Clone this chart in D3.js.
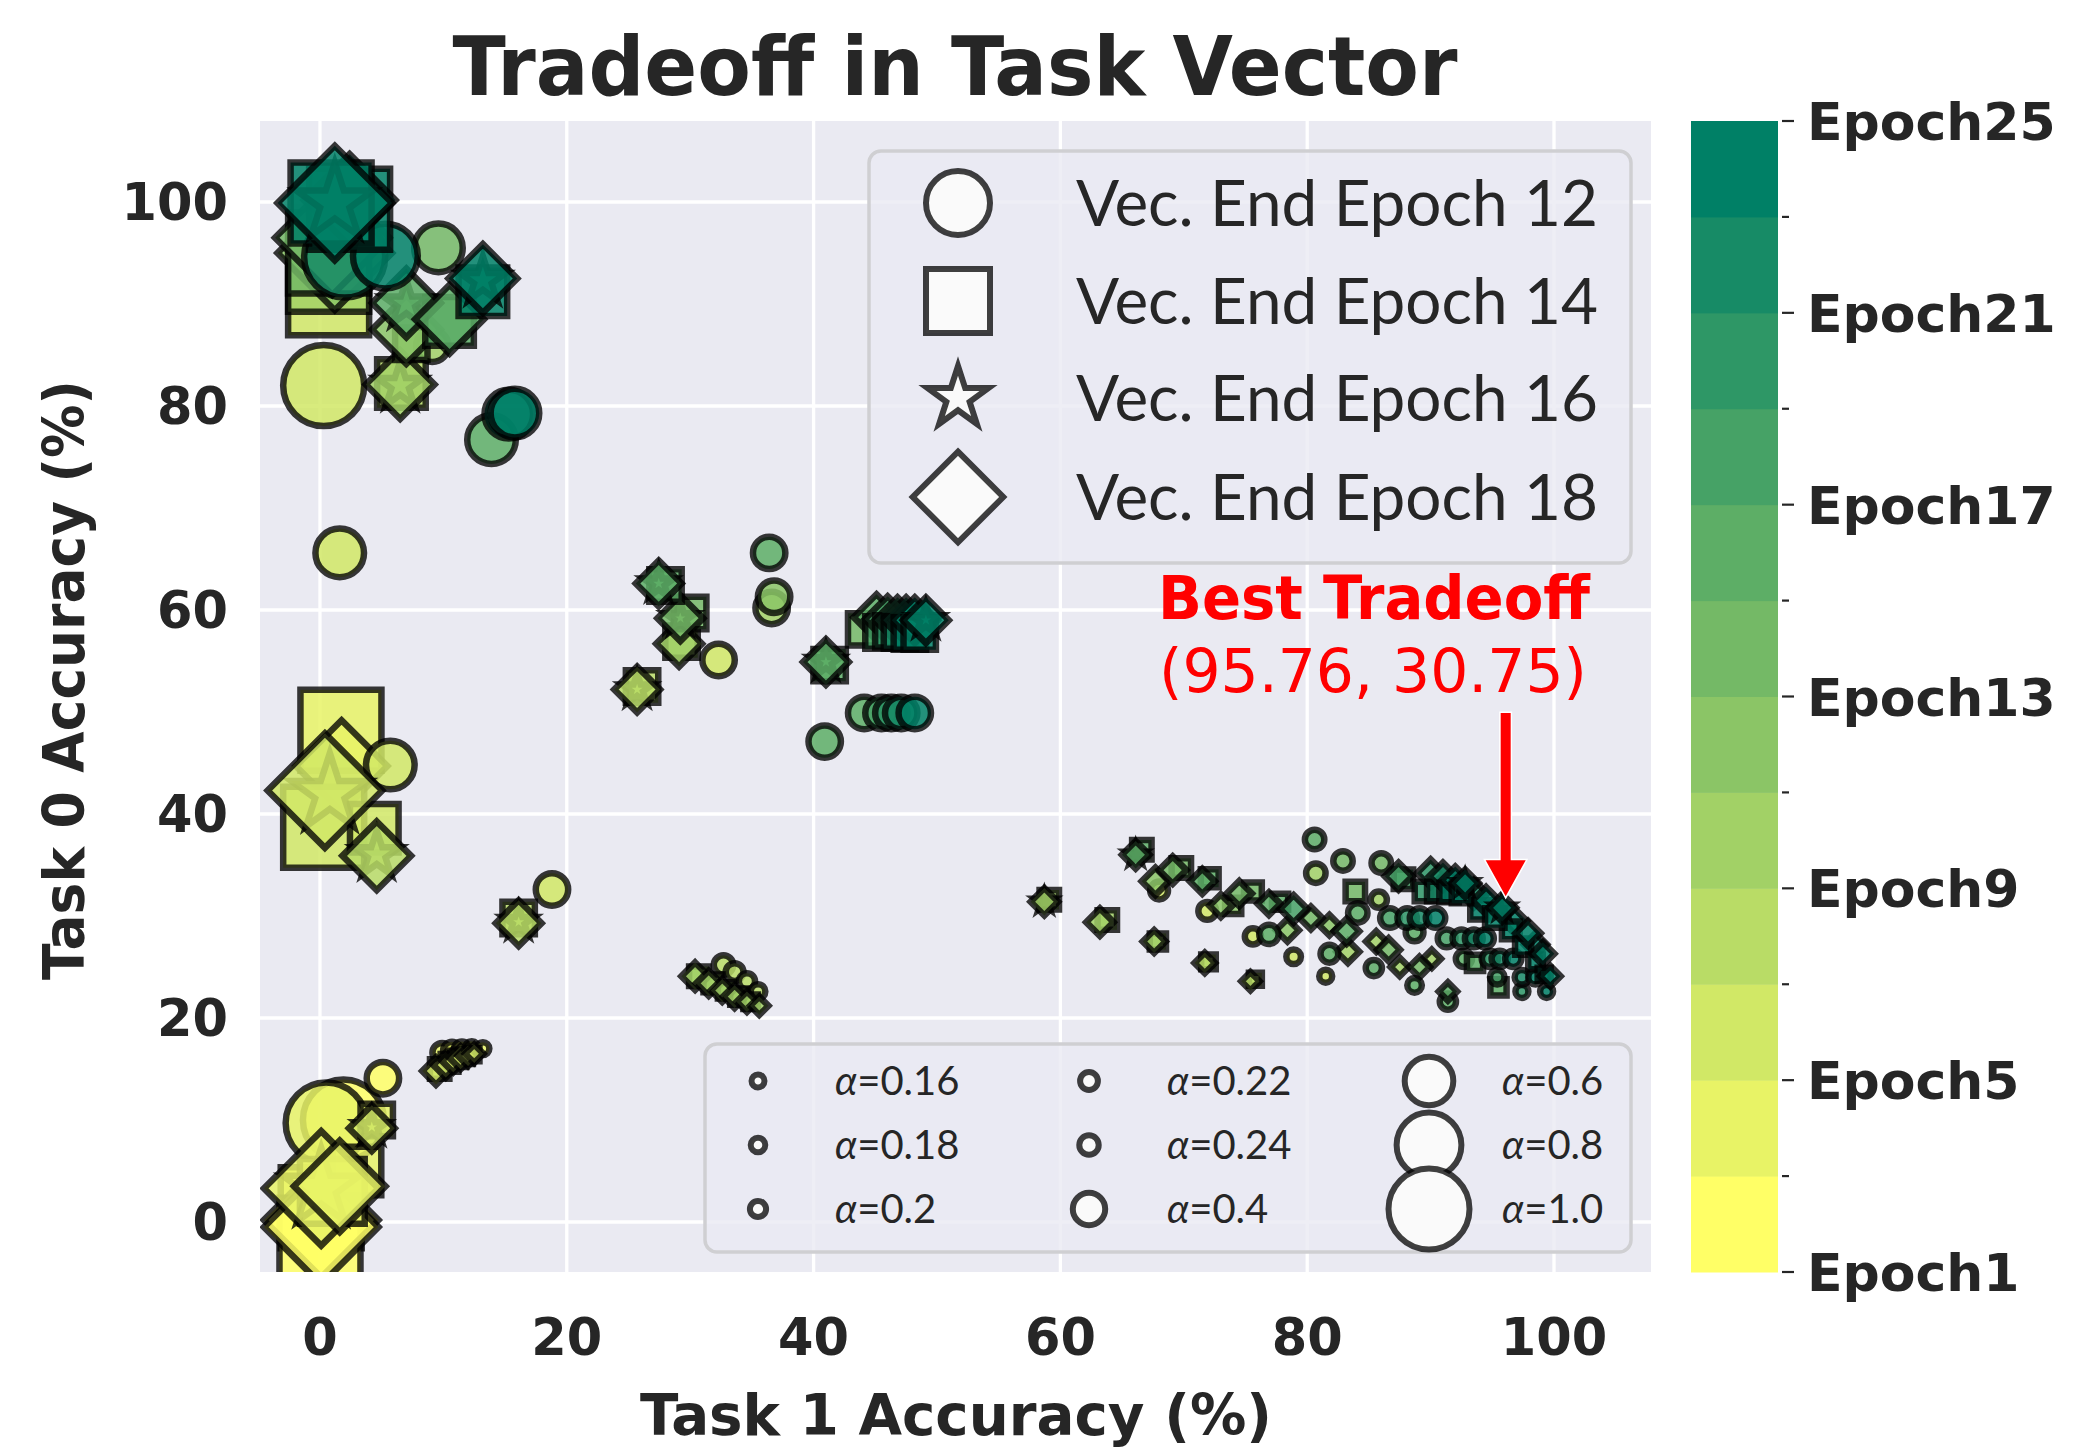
<!DOCTYPE html>
<html><head><meta charset="utf-8">
<script src="https://cdn.jsdelivr.net/npm/d3@7"></script>
<style>body{margin:0;background:#fff}svg{display:block}</style>
</head><body>
<svg id="c" width="2088" height="1455"></svg>
<script>
// ---------------- data ----------------
const chartTitle = "Tradeoff in Task Vector";
const xLabel = "Task 1 Accuracy (%)";
const yLabel = "Task 0 Accuracy (%)";
const xTicks = [0, 20, 40, 60, 80, 100];
const yTicks = [0, 20, 40, 60, 80, 100];
const epochBounds = [1, 3, 5, 7, 9, 11, 13, 15, 17, 19, 21, 23, 25];
const epochLabels = ["Epoch1", "Epoch5", "Epoch9", "Epoch13", "Epoch17", "Epoch21", "Epoch25"];
const epochLabelValues = [1, 5, 9, 13, 17, 21, 25];
const shapeLabels = ["Vec. End Epoch 12", "Vec. End Epoch 14", "Vec. End Epoch 16", "Vec. End Epoch 18"];
const alphaLevels = [0.16, 0.18, 0.2, 0.22, 0.24, 0.4, 0.6, 0.8, 1.0];
const alphaLabels = ["0.16", "0.18", "0.2", "0.22", "0.24", "0.4", "0.6", "0.8", "1.0"];
const bestPoint = [95.76, 30.75];
const bestTitle = "Best Tradeoff";
const bestText = "(95.76, 30.75)";

// each entry: [task1 acc, task0 acc, alpha, start epoch]
const circlePts = [
  [2.0, 94.6, 1.0, 21], [5.3, 94.7, 0.8, 23], [9.6, 95.5, 0.6, 13], [9.1, 85.9, 0.4, 9],
  [0.3, 82.0, 1.0, 5], [15.3, 79.2, 0.6, 23], [15.8, 79.3, 0.6, 25], [13.9, 76.7, 0.6, 15],
  [1.6, 65.6, 0.6, 5], [5.7, 44.8, 0.6, 5], [18.8, 32.6, 0.4, 5],
  [0.5, 9.7, 1.0, 3], [1.9, 10.0, 1.0, 1], [5.1, 14.1, 0.4, 1],
  [9.9, 16.6, 0.24, 3], [10.7, 16.8, 0.22, 3], [11.5, 16.9, 0.2, 3], [12.3, 17.0, 0.18, 3], [13.2, 17.0, 0.16, 3],
  [32.7, 25.2, 0.24, 7], [33.6, 24.5, 0.22, 7], [34.6, 23.6, 0.2, 7], [35.5, 22.6, 0.18, 7],
  [32.3, 55.1, 0.4, 5], [36.4, 65.6, 0.4, 15], [36.6, 60.2, 0.4, 9], [36.8, 61.3, 0.4, 11],
  [40.9, 47.1, 0.4, 15], [44.1, 49.9, 0.4, 15], [45.5, 49.9, 0.4, 17], [46.3, 49.9, 0.4, 19],
  [47.1, 49.9, 0.4, 21], [48.2, 49.9, 0.4, 25],
  [68.0, 32.5, 0.22, 5], [71.9, 30.5, 0.22, 5], [75.6, 28.0, 0.2, 5], [76.9, 28.2, 0.24, 15],
  [78.9, 26.0, 0.18, 5], [80.6, 37.5, 0.24, 15], [80.7, 34.2, 0.24, 9], [82.9, 35.4, 0.24, 13],
  [86.0, 35.2, 0.24, 13], [85.8, 31.6, 0.2, 9], [84.1, 30.3, 0.24, 15],
  [86.7, 29.8, 0.24, 17], [88.1, 29.8, 0.24, 19], [89.1, 29.8, 0.24, 21], [90.4, 29.8, 0.24, 25],
  [91.3, 27.8, 0.22, 17], [92.5, 27.8, 0.22, 19], [93.5, 27.8, 0.22, 21], [94.4, 27.8, 0.22, 25],
  [92.7, 25.8, 0.2, 15], [94.8, 25.8, 0.2, 19], [95.6, 25.8, 0.2, 21], [96.7, 25.8, 0.2, 25],
  [95.4, 24.0, 0.18, 17], [97.4, 24.0, 0.18, 21], [98.5, 24.0, 0.18, 25],
  [97.4, 22.6, 0.16, 19], [99.4, 22.6, 0.16, 25],
  [85.4, 24.9, 0.2, 15], [81.8, 26.3, 0.22, 15], [81.5, 24.1, 0.16, 5], [88.7, 23.2, 0.18, 15],
  [88.7, 28.4, 0.22, 15], [91.4, 21.6, 0.2, 15]
];
const squarePts = [
  [0.9, 99.9, 1.0, 25], [2.4, 99.3, 1.0, 23], [0.7, 95.0, 1.0, 13], [0.7, 93.2, 1.0, 9],
  [0.7, 90.9, 1.0, 5], [13.2, 91.2, 0.6, 23], [10.5, 88.3, 0.6, 15], [6.6, 82.2, 0.6, 7],
  [7.4, 86.1, 0.4, 11],
  [1.7, 48.2, 1.0, 3], [0.3, 38.7, 1.0, 5], [4.4, 38.6, 0.6, 5], [16.1, 29.8, 0.4, 7],
  [4.6, 10.0, 0.4, 3], [3.0, 5.0, 0.6, 3], [1.0, 3.0, 0.8, 3], [0.1, 1.4, 1.0, 1], [0.0, -1.6, 1.0, 1],
  [9.7, 15.0, 0.24, 5], [10.5, 15.6, 0.22, 5], [11.2, 16.0, 0.2, 5], [11.8, 16.2, 0.18, 5], [12.4, 16.4, 0.16, 5],
  [30.7, 24.1, 0.24, 9], [31.8, 23.4, 0.22, 9], [32.9, 22.7, 0.2, 9], [33.9, 22.1, 0.2, 9], [34.9, 21.6, 0.18, 9],
  [28.0, 62.4, 0.4, 15], [30.0, 59.7, 0.4, 13], [29.3, 56.9, 0.4, 9], [26.1, 52.5, 0.4, 7],
  [41.3, 54.6, 0.4, 15], [44.1, 58.1, 0.4, 13], [45.5, 57.8, 0.4, 17], [46.3, 57.9, 0.4, 19],
  [47.0, 57.8, 0.4, 21], [47.8, 57.7, 0.4, 23], [48.6, 57.7, 0.4, 25],
  [59.1, 31.6, 0.24, 9], [63.8, 29.6, 0.24, 9], [67.9, 27.5, 0.2, 9], [72.0, 25.5, 0.18, 7], [75.8, 23.8, 0.16, 7],
  [66.6, 36.5, 0.24, 15], [69.8, 34.7, 0.24, 13], [72.1, 33.7, 0.22, 15], [75.6, 32.4, 0.22, 13],
  [74.0, 31.0, 0.2, 11], [77.8, 31.4, 0.2, 15], [83.9, 32.4, 0.24, 13], [87.8, 33.6, 0.24, 17],
  [89.5, 32.4, 0.24, 19], [90.5, 32.4, 0.24, 21], [91.5, 32.3, 0.24, 23], [92.5, 32.2, 0.24, 25],
  [93.6, 25.4, 0.2, 15], [95.5, 23.0, 0.2, 15], [96.5, 28.6, 0.22, 25], [97.5, 27.0, 0.2, 25],
  [98.5, 25.5, 0.18, 25], [99.2, 24.3, 0.16, 25], [95.2, 29.8, 0.24, 25], [94.0, 30.6, 0.24, 23]
];
const starPts = [
  [1.2, 99.9, 1.0, 25], [13.2, 92.3, 0.6, 25], [7.0, 90.0, 0.6, 15], [6.5, 82.0, 0.6, 9],
  [0.8, 42.0, 1.0, 5], [4.6, 36.0, 0.6, 7], [16.1, 29.4, 0.4, 7],
  [0.1, 3.3, 1.0, 3], [4.2, 9.3, 0.4, 5],
  [27.45, 62.6, 0.4, 15], [29.2, 59.2, 0.4, 13], [25.7, 52.2, 0.4, 7], [41.0, 54.9, 0.4, 15], [49.1, 59.0, 0.4, 25],
  [58.7, 31.4, 0.24, 9], [66.1, 36.0, 0.24, 15], [92.8, 33.2, 0.24, 25], [95.8, 30.8, 0.24, 25]
];
const diamondPts = [
  [1.0, 96.5, 1.0, 13], [1.2, 95.0, 1.0, 11], [1.2, 99.9, 1.0, 25], [2.4, 100.2, 0.8, 23],
  [7.0, 90.1, 0.6, 15], [7.0, 87.5, 0.6, 11], [13.2, 92.5, 0.6, 25], [6.5, 82.1, 0.6, 9], [10.5, 88.5, 0.6, 15],
  [0.4, 42.3, 1.0, 5], [1.75, 44.7, 0.8, 3], [4.6, 35.9, 0.6, 7], [16.1, 29.3, 0.4, 7],
  [4.2, 9.2, 0.4, 5], [0.1, 3.3, 1.0, 3], [1.6, 3.5, 0.8, 3], [0.1, 0.2, 1.0, 1], [0.1, -0.5, 1.0, 1],
  [9.4, 14.8, 0.24, 5], [10.2, 15.4, 0.22, 5], [10.8, 15.8, 0.2, 5], [11.4, 16.1, 0.2, 5], [12.0, 16.3, 0.18, 5], [12.5, 16.5, 0.16, 5],
  [30.4, 24.1, 0.24, 9], [31.5, 23.4, 0.22, 9], [32.6, 22.7, 0.2, 9], [33.6, 22.1, 0.2, 9], [34.6, 21.6, 0.18, 9], [35.6, 21.2, 0.16, 9],
  [27.45, 62.6, 0.4, 15], [29.2, 59.2, 0.4, 13], [29.1, 56.7, 0.4, 9], [25.7, 52.2, 0.4, 7], [41.0, 54.9, 0.4, 15],
  [45.1, 59.3, 0.4, 15], [46.0, 59.1, 0.4, 17], [46.8, 59.0, 0.4, 19], [47.5, 59.0, 0.4, 21], [48.2, 59.0, 0.4, 23], [49.1, 59.0, 0.4, 25],
  [58.7, 31.4, 0.24, 9], [63.2, 29.4, 0.24, 9], [67.6, 27.5, 0.2, 9], [71.7, 25.4, 0.18, 7], [75.4, 23.6, 0.16, 7],
  [66.1, 36.0, 0.24, 15], [67.7, 33.4, 0.24, 11], [69.1, 34.5, 0.24, 13], [71.5, 33.4, 0.22, 15], [74.5, 32.2, 0.22, 13],
  [73.0, 31.0, 0.2, 11], [76.9, 31.2, 0.2, 15], [78.9, 30.7, 0.24, 17], [80.3, 29.8, 0.2, 13], [78.4, 28.6, 0.2, 11],
  [81.8, 29.1, 0.18, 11], [83.2, 28.5, 0.22, 15], [83.3, 26.5, 0.2, 9], [85.6, 27.5, 0.18, 9], [86.6, 26.7, 0.2, 13],
  [87.5, 25.0, 0.16, 9], [89.1, 25.0, 0.18, 13], [90.1, 25.8, 0.16, 9], [91.4, 22.6, 0.16, 15],
  [87.4, 33.9, 0.24, 17], [90.0, 34.2, 0.24, 19], [91.0, 33.9, 0.24, 21], [92.0, 33.5, 0.24, 23], [92.8, 33.2, 0.24, 25],
  [93.5, 32.2, 0.24, 21], [94.5, 31.5, 0.24, 23], [96.8, 29.5, 0.22, 23], [98.5, 27.2, 0.2, 23],
  [95.8, 30.8, 0.24, 25], [97.9, 28.3, 0.22, 25], [99.1, 26.3, 0.2, 25], [99.7, 24.1, 0.18, 25]
];

// ---------------- layout ----------------
const svg = d3.select("#c");
const W = 2088, H = 1455;
const plot = {left: 260, right: 1651, top: 121, bottom: 1272};
const x = d3.scaleLinear().domain([-4.86, 107.86]).range([plot.left, plot.right]);
const y = d3.scaleLinear().domain([-4.9, 107.94]).range([plot.bottom, plot.top]);
const mSize = d3.scaleLinear().domain([0, 1]).range([0, 81]);
const textCol = "#262626";

svg.append("rect").attr("width", W).attr("height", H).attr("fill", "#fff");

// colormap: summer_r, 12 discrete levels
const summer = t => d3.rgb(Math.round(255 * t), Math.round(255 * (0.5 + 0.5 * t)), 102).toString();
const bandColor = k => summer(1 - k / 11);
const colorFor = e => bandColor(Math.min(11, Math.floor((e - 1) / 24 * 12)));

// symbols (size = marker size in px)
const symCircle = {draw(c, m) { const r = m / 2; c.moveTo(r, 0); c.arc(0, 0, r, 0, 2 * Math.PI); }};
const symSquare = {draw(c, m) { const h = m / 2; c.rect(-h, -h, m, m); }};
const symDiamond = {draw(c, m) { const h = m * Math.SQRT1_2; c.moveTo(0, -h); c.lineTo(h, 0); c.lineTo(0, h); c.lineTo(-h, 0); c.closePath(); }};
const symStar = {draw(c, m) {
  const R = m / 2, r = R * 0.381966;
  for (let i = 0; i < 10; i++) {
    const a = -Math.PI / 2 + i * Math.PI / 5, rr = i % 2 ? r : R;
    const px = rr * Math.cos(a), py = rr * Math.sin(a);
    if (i) c.lineTo(px, py); else c.moveTo(px, py);
  }
  c.closePath();
}};
const shapes = [symCircle, symSquare, symStar, symDiamond];
const symPath = (s, m) => d3.symbol().type(shapes[s]).size(m)();

// plot background + grid
svg.append("rect").attr("x", plot.left).attr("y", plot.top)
  .attr("width", plot.right - plot.left).attr("height", plot.bottom - plot.top).attr("fill", "#eaeaf2");
const grid = svg.append("g").attr("stroke", "#fff").attr("stroke-width", 3.3);
grid.selectAll(".gx").data(xTicks).join("line").attr("x1", d => x(d)).attr("x2", d => x(d))
  .attr("y1", plot.top).attr("y2", plot.bottom);
grid.selectAll(".gy").data(yTicks).join("line").attr("y1", d => y(d)).attr("y2", d => y(d))
  .attr("x1", plot.left).attr("x2", plot.right);

// clip
svg.append("clipPath").attr("id", "clip").append("rect").attr("x", plot.left).attr("y", plot.top)
  .attr("width", plot.right - plot.left).attr("height", plot.bottom - plot.top);

// points
const all = [];
[circlePts, squarePts, starPts, diamondPts].forEach((arr, s) =>
  arr.forEach(d => all.push({x: d[0], y: d[1], a: d[2], e: d[3], s})));
all.sort((p, q) => (p.e - q.e) || (p.s - q.s));
svg.append("g").attr("clip-path", "url(#clip)").selectAll("path").data(all).join("path")
  .attr("transform", d => `translate(${x(d.x)},${y(d.y)})`)
  .attr("d", d => symPath(d.s, mSize(d.a)))
  .attr("fill", d => colorFor(d.e)).attr("fill-opacity", 0.85)
  .attr("stroke", "#000").attr("stroke-opacity", 0.78).attr("stroke-width", 6.5)
  .attr("stroke-linejoin", "miter");

// axes tick labels
const tickFont = "'DejaVu Sans', sans-serif";
svg.append("g").selectAll("text").data(xTicks).join("text")
  .attr("x", d => x(d)).attr("y", 1355).attr("text-anchor", "middle")
  .attr("font-family", tickFont).attr("font-weight", "bold").attr("font-size", 51).attr("fill", textCol)
  .text(d => d);
svg.append("g").selectAll("text").data(yTicks).join("text")
  .attr("x", 228).attr("y", d => y(d) + 18).attr("text-anchor", "end")
  .attr("font-family", tickFont).attr("font-weight", "bold").attr("font-size", 51).attr("fill", textCol)
  .text(d => d);

// axis labels + title
svg.append("text").attr("x", 956).attr("y", 1435).attr("text-anchor", "middle")
  .attr("font-family", tickFont).attr("font-weight", "bold").attr("font-size", 57).attr("fill", textCol)
  .attr("textLength", 632).attr("lengthAdjust", "spacingAndGlyphs").text(xLabel);
svg.append("text").attr("transform", "translate(84,680) rotate(-90)").attr("text-anchor", "middle")
  .attr("font-family", tickFont).attr("font-weight", "bold").attr("font-size", 57).attr("fill", textCol)
  .attr("textLength", 600).attr("lengthAdjust", "spacingAndGlyphs").text(yLabel);
svg.append("text").attr("x", 955).attr("y", 95).attr("text-anchor", "middle")
  .attr("font-family", tickFont).attr("font-weight", "bold").attr("font-size", 82).attr("fill", textCol)
  .attr("textLength", 1005).attr("lengthAdjust", "spacingAndGlyphs").text(chartTitle);

// colorbar
const cb = {left: 1691, right: 1778};
const cy = d3.scaleLinear().domain([1, 25]).range([plot.bottom, plot.top]);
const cbg = svg.append("g");
cbg.selectAll("rect").data(d3.range(12)).join("rect")
  .attr("x", cb.left).attr("width", cb.right - cb.left)
  .attr("y", k => cy(epochBounds[k + 1])).attr("height", k => cy(epochBounds[k]) - cy(epochBounds[k + 1]) + 0.5)
  .attr("fill", k => bandColor(k));
cbg.selectAll("line").data(epochBounds).join("line")
  .attr("x1", cb.right + 4).attr("x2", (d, i) => cb.right + (i % 2 ? 11 : 16))
  .attr("y1", d => cy(d)).attr("y2", d => cy(d)).attr("stroke", textCol).attr("stroke-width", 2.2);
cbg.selectAll("text").data(epochLabelValues).join("text")
  .attr("x", 1807).attr("y", d => cy(d) + 19)
  .attr("font-family", tickFont).attr("font-weight", "bold").attr("font-size", 52).attr("fill", textCol)
  .text((d, i) => epochLabels[i]);

// shape legend
const leg1 = svg.append("g");
leg1.append("rect").attr("x", 869).attr("y", 151).attr("width", 762).attr("height", 412).attr("rx", 12)
  .attr("fill", "#eaeaf2").attr("fill-opacity", 0.8).attr("stroke", "#cfcfd2").attr("stroke-width", 3.5);
const leg1Y = [203, 301, 398, 497];
leg1.selectAll("path").data(shapeLabels).join("path")
  .attr("transform", (d, i) => `translate(958,${leg1Y[i]})`)
  .attr("d", (d, i) => symPath([0, 1, 2, 3][i], 64))
  .attr("fill", "#fafafa").attr("stroke", "#000").attr("stroke-opacity", 0.75).attr("stroke-width", 6);
leg1.selectAll("text").data(shapeLabels).join("text")
  .attr("x", 1076).attr("y", (d, i) => leg1Y[i] + 23)
  .attr("font-family", "Lato, sans-serif").attr("font-size", 64).attr("fill", textCol)
  .attr("textLength", 522).attr("lengthAdjust", "spacingAndGlyphs").text(d => d);

// alpha legend
const leg2 = svg.append("g");
leg2.append("rect").attr("x", 705).attr("y", 1044).attr("width", 926).attr("height", 208).attr("rx", 12)
  .attr("fill", "#eaeaf2").attr("fill-opacity", 0.8).attr("stroke", "#cfcfd2").attr("stroke-width", 3.5);
const colX = [758, 1089, 1429], colT = [835, 1167, 1502], rowY = [1081, 1145, 1209];
leg2.selectAll("path").data(alphaLevels).join("path")
  .attr("transform", (d, i) => `translate(${colX[Math.floor(i / 3)]},${rowY[i % 3]})`)
  .attr("d", d => symPath(0, mSize(d)))
  .attr("fill", "#fafafa").attr("stroke", "#000").attr("stroke-opacity", 0.75).attr("stroke-width", 6);
const lt = leg2.selectAll("text").data(alphaLabels).join("text")
  .attr("x", (d, i) => colT[Math.floor(i / 3)]).attr("y", (d, i) => rowY[i % 3] + 14)
  .attr("font-family", "Lato, sans-serif").attr("font-size", 40).attr("fill", textCol);
lt.append("tspan").attr("font-style", "italic").text("α");
lt.append("tspan").text(d => "=" + d);

// best tradeoff annotation
const tipX = x(bestPoint[0]) + 4, tipY = y(bestPoint[1]) - 12, tailY = 713;
const hw = 20, hl = 36, sw = 5;
const ap = d3.path();
ap.moveTo(tipX - sw, tailY); ap.lineTo(tipX + sw, tailY); ap.lineTo(tipX + sw, tipY - hl);
ap.lineTo(tipX + hw, tipY - hl); ap.lineTo(tipX, tipY); ap.lineTo(tipX - hw, tipY - hl);
ap.lineTo(tipX - sw, tipY - hl); ap.closePath();
svg.append("path").attr("d", ap.toString()).attr("fill", "#ff0000").attr("stroke", "#fff")
  .attr("stroke-width", 3).attr("paint-order", "stroke");
svg.append("text").attr("x", 1374).attr("y", 619).attr("text-anchor", "middle")
  .attr("font-family", tickFont).attr("font-weight", "bold").attr("font-size", 60).attr("fill", "#ff0000")
  .attr("textLength", 432).attr("lengthAdjust", "spacingAndGlyphs").text(bestTitle);
svg.append("text").attr("x", 1373).attr("y", 692).attr("text-anchor", "middle")
  .attr("font-family", tickFont).attr("font-size", 60).attr("fill", "#ff0000")
  .attr("textLength", 428).attr("lengthAdjust", "spacingAndGlyphs").text(bestText);
</script>
</body></html>
